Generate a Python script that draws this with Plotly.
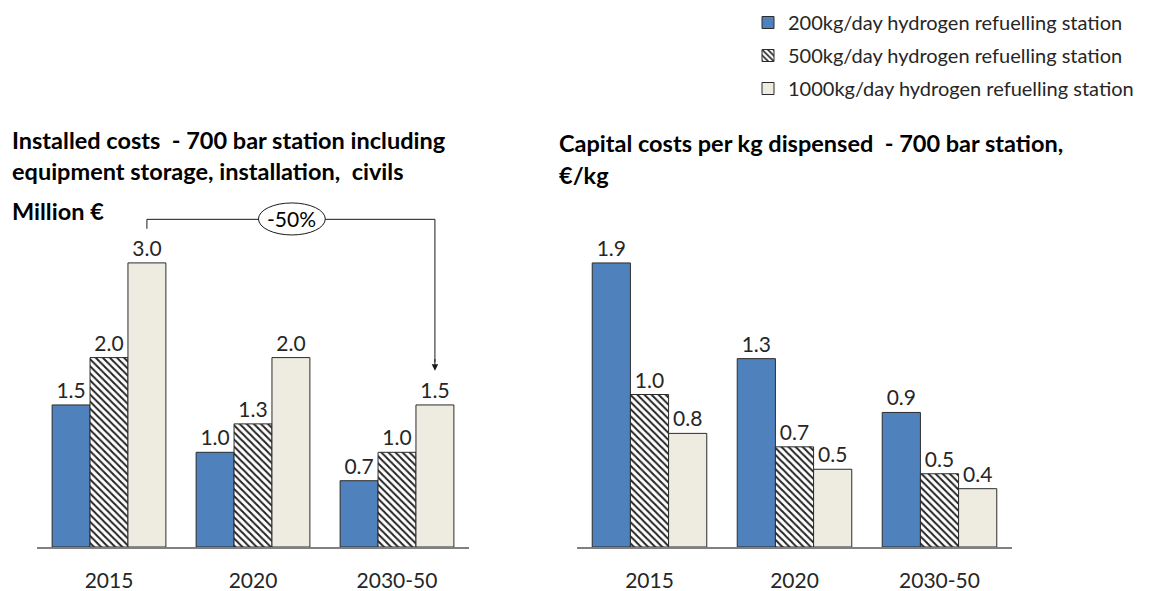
import plotly.graph_objects as go

# categories and series
years = ["2015", "2020", "2030-50"]
series = ["200kg/day hydrogen refuelling station",
          "500kg/day hydrogen refuelling station",
          "1000kg/day hydrogen refuelling station"]

# installed costs, million EUR
installed_200 = [1.5, 1.0, 0.7]
installed_500 = [2.0, 1.3, 1.0]
installed_1000 = [3.0, 2.0, 1.5]

# capital costs per kg dispensed, EUR/kg
capital_200 = [1.9, 1.26, 0.9]
capital_500 = [1.02, 0.67, 0.49]
capital_1000 = [0.76, 0.52, 0.39]

# page has an 8px body margin, so the figure is 8px smaller than the window
OFF = 8
W, H = 1151 - OFF, 591 - OFF
FONT = "Lato"
TXT = "#262626"

def px(x):
    return (x - OFF) / W

def py(y):
    return (H - (y - OFF)) / H

blue = dict(color="#4F81BD", line=dict(color="#2b2b2b", width=1))
hatch = dict(color="white",
             pattern=dict(shape="\\", fgcolor="#222222", bgcolor="white", size=5, solidity=0.4),
             line=dict(color="#2b2b2b", width=1))
beige = dict(color="#EEECE1", line=dict(color="#2b2b2b", width=1))
markers = [blue, hatch, beige]

fig = go.Figure()

left = [installed_200, installed_500, installed_1000]
right = [capital_200, capital_500, capital_1000]

for i, name in enumerate(series):
    fig.add_trace(go.Bar(x=years, y=left[i], name=name, marker=markers[i],
                         texttemplate="%{y:.1f}", textposition="outside",
                         textfont=dict(family=FONT, size=21, color=TXT),
                         cliponaxis=False, xaxis="x", yaxis="y", legendgroup=name))
for i, name in enumerate(series):
    fig.add_trace(go.Bar(x=years, y=right[i], name=name, marker=markers[i],
                         texttemplate="%{y:.1f}", textposition="outside",
                         textfont=dict(family=FONT, size=21, color=TXT),
                         cliponaxis=False, xaxis="x2", yaxis="y2", legendgroup=name,
                         showlegend=False))

ydom = [py(547), py(200)]
axis_common = dict(type="category", showgrid=False, zeroline=False, showline=True,
                   linecolor="#808080", linewidth=2,
                   ticks="outside", ticklen=14, tickcolor="rgba(0,0,0,0)",
                   tickfont=dict(family=FONT, size=21, color=TXT), fixedrange=True)

fig.update_layout(
    template="none",
    width=W, height=H,
    margin=dict(l=0, r=0, t=0, b=0, autoexpand=False),
    paper_bgcolor="white", plot_bgcolor="white",
    barmode="group", bargap=0.21, bargroupgap=0,
    xaxis=dict(domain=[px(37), px(469)], anchor="y", **axis_common),
    xaxis2=dict(domain=[px(577), px(1012)], anchor="y2", **axis_common),
    yaxis=dict(domain=ydom, range=[0, 347 / 94.7], visible=False, anchor="x"),
    yaxis2=dict(domain=ydom, range=[0, 347 / 149.5], visible=False, anchor="x2"),
    legend=dict(x=px(748), y=py(3), xanchor="left", yanchor="top",
                font=dict(family=FONT, size=20, color=TXT),
                bgcolor="rgba(0,0,0,0)", tracegroupgap=4),
    showlegend=True,
)

def title(text, x, y):
    fig.add_annotation(text=text, x=px(x), y=py(y), xref="paper", yref="paper",
                       xanchor="left", yanchor="middle", showarrow=False,
                       font=dict(family=FONT, size=23.5, color="black"))

title("<b>Installed costs  - 700 bar station including</b>", 10, 140)
title("<b>equipment storage, installation,  civils</b>", 10, 171)
title("<b>Million €</b>", 10, 211)
title("<b>Capital costs per kg dispensed  - 700 bar station,</b>", 557, 143)
title("<b>€/kg</b>", 557, 175)

# -50% bracket from 2015 to 2030-50 (largest station)
off = (1 - 0.21) / 3
fig.add_shape(type="path", xref="x", yref="y",
              path=f"M {off},3.36 L {off},3.46 L {2 + off},3.46 L {2 + off},1.95",
              line=dict(color="#1a1a1a", width=1))
fig.add_annotation(x=2 + off, y=1.86, ax=2 + off, ay=2.0, xref="x", yref="y",
                   axref="x", ayref="y", text="", showarrow=True,
                   arrowhead=2, arrowsize=1.3, arrowwidth=1, arrowcolor="#1a1a1a")
fig.add_shape(type="circle", xref="x", yref="y",
              x0=1.27 - 0.232, x1=1.27 + 0.232, y0=3.295, y1=3.633,
              fillcolor="white", line=dict(color="#1a1a1a", width=1))
fig.add_annotation(x=1.27, y=3.464, xref="x", yref="y", text="-50%", showarrow=False,
                   font=dict(family=FONT, size=21, color="black"))

fig.write_html("out.html")
